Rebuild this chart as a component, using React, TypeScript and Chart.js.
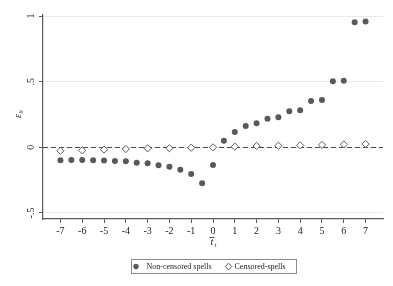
import React, { useEffect, useRef } from "react";
import { Chart, registerables } from "chart.js";

Chart.register(...registerables);

const xNonCensored = [-7, -6.5, -6, -5.5, -5, -4.5, -4, -3.5, -3, -2.5, -2, -1.5, -1, -0.5, 0, 0.5, 1, 1.5, 2, 2.5, 3, 3.5, 4, 4.5, 5, 5.5, 6, 6.5, 7];
const yNonCensored = [-0.099, -0.096, -0.097, -0.099, -0.100, -0.104, -0.106, -0.117, -0.122, -0.137, -0.148, -0.171, -0.203, -0.274, -0.135, 0.050, 0.117, 0.163, 0.183, 0.218, 0.229, 0.275, 0.282, 0.353, 0.361, 0.503, 0.508, 0.953, 0.958];
const xCensored = [-7, -6, -5, -4, -3, -2, -1, 0, 1, 2, 3, 4, 5, 6, 7];
const yCensored = [-0.026, -0.023, -0.018, -0.013, -0.008, -0.007, -0.003, 0.0, 0.005, 0.010, 0.012, 0.015, 0.018, 0.022, 0.025];
const xTicks = [-7, -6, -5, -4, -3, -2, -1, 0, 1, 2, 3, 4, 5, 6, 7];
const yTicks = [-0.5, 0, 0.5, 1];
const yTickLabels = ["-.5", "0", ".5", "1"];
const seriesNames = ["Non-censored spells", "Censored-spells"];

const MARK = "#595959";
const AXIS = "#5a5a5a";
const FONT = "'Liberation Serif', 'Times New Roman', serif";

const decor = {
  id: "decor",
  beforeDatasetsDraw(chart: any) {
    const { ctx, chartArea, scales } = chart;
    const y0 = scales.y.getPixelForValue(0);
    ctx.save();
    ctx.strokeStyle = "#4a4a4a";
    ctx.lineWidth = 1;
    ctx.setLineDash([5, 3]);
    ctx.beginPath();
    ctx.moveTo(chartArea.left, Math.round(y0) + 0.5);
    ctx.lineTo(chartArea.right, Math.round(y0) + 0.5);
    ctx.stroke();
    ctx.restore();
  },
  afterDraw(chart: any) {
    const { ctx, chartArea, scales } = chart;
    ctx.save();
    ctx.fillStyle = "#222";
    // rotated y tick labels
    ctx.font = `10px ${FONT}`;
    ctx.textAlign = "center";
    ctx.textBaseline = "middle";
    yTicks.forEach((v, i) => {
      const py = scales.y.getPixelForValue(v);
      ctx.save();
      ctx.translate(chartArea.left - 11.5, py);
      ctx.rotate(-Math.PI / 2);
      ctx.fillText(yTickLabels[i], 0, 0);
      ctx.restore();
    });
    // y title
    ctx.save();
    ctx.translate(18, (chartArea.top + chartArea.bottom) / 2 - 3);
    ctx.rotate(-Math.PI / 2);
    ctx.font = `italic 10px ${FONT}`;
    ctx.textAlign = "right";
    ctx.fillText("ε", 0, 0);
    ctx.font = `italic 6px ${FONT}`;
    ctx.textAlign = "left";
    ctx.fillText("it", 0.5, 3);
    ctx.restore();
    // x title
    const cx = scales.x.getPixelForValue(0);
    ctx.font = `italic 10px ${FONT}`;
    ctx.textAlign = "center";
    ctx.fillText("t", cx - 1, 242);
    ctx.fillRect(cx - 3.5, 237, 5, 0.8);
    ctx.font = `italic 6px ${FONT}`;
    ctx.fillText("i", cx + 2.5, 245.5);
    // legend
    const lx = 131, ly = 259, lw = 165, lh = 14;
    ctx.strokeStyle = "#8a8a8a";
    ctx.lineWidth = 1;
    ctx.strokeRect(lx + 0.5, ly + 0.5, lw, lh);
    const cy = ly + lh / 2 + 0.5;
    ctx.fillStyle = MARK;
    ctx.beginPath();
    ctx.arc(136, cy, 2.7, 0, Math.PI * 2);
    ctx.fill();
    ctx.strokeStyle = MARK;
    ctx.beginPath();
    ctx.moveTo(228.5, cy - 3.3);
    ctx.lineTo(231.8, cy);
    ctx.lineTo(228.5, cy + 3.3);
    ctx.lineTo(225.2, cy);
    ctx.closePath();
    ctx.fillStyle = "#fff";
    ctx.fill();
    ctx.stroke();
    ctx.fillStyle = "#222";
    ctx.font = `8px ${FONT}`;
    ctx.textAlign = "left";
    ctx.textBaseline = "middle";
    ctx.fillText(seriesNames[0], 146.5, cy);
    ctx.fillText(seriesNames[1], 234.5, cy);
    ctx.restore();
  },
};

export default function App() {
  const ref = useRef<HTMLCanvasElement>(null);
  useEffect(() => {
    if (!ref.current) return;
    const chart = new Chart(ref.current, {
      type: "scatter",
      data: {
        datasets: [
          {
            label: seriesNames[0],
            data: xNonCensored.map((x, i) => ({ x, y: yNonCensored[i] })),
            pointStyle: "circle",
            pointRadius: 3,
            backgroundColor: MARK,
            borderColor: MARK,
            borderWidth: 0,
          },
          {
            label: seriesNames[1],
            data: xCensored.map((x, i) => ({ x, y: yCensored[i] })),
            pointStyle: "rectRot",
            pointRadius: 3.6,
            backgroundColor: "#ffffff",
            borderColor: MARK,
            borderWidth: 1,
          },
        ],
      },
      options: {
        responsive: false,
        animation: false,
        layout: { padding: { top: 15, right: 10, left: 0, bottom: 0 } },
        plugins: { legend: { display: false }, tooltip: { enabled: false } },
        scales: {
          x: {
            type: "linear",
            min: -7.8,
            max: 7.8,
            afterBuildTicks: (s: any) => {
              s.ticks = xTicks.map((v) => ({ value: v }));
            },
            afterFit: (s: any) => {
              s.height = 67;
            },
            grid: { drawOnChartArea: false, drawTicks: true, tickLength: 4, tickColor: AXIS },
            border: { display: true, color: AXIS, width: 1.2 },
            ticks: {
              padding: 2,
              color: "#222",
              font: { family: FONT, size: 10 },
              maxRotation: 0,
              callback: (v: any) => String(v),
            },
          },
          y: {
            type: "linear",
            min: -0.546,
            max: 1.008,
            afterBuildTicks: (s: any) => {
              s.ticks = yTicks.map((v) => ({ value: v }));
            },
            afterFit: (s: any) => {
              s.width = 43;
            },
            grid: { color: "#eaeaea", drawTicks: true, tickLength: 4, tickColor: AXIS },
            border: { display: true, color: AXIS, width: 1.2 },
            ticks: { display: false },
          },
        },
      },
      plugins: [decor],
    });
    return () => chart.destroy();
  }, []);
  return (
    <div style={{ position: "absolute", left: 0, top: 0, width: 393, height: 286, background: "#fff" }}>
      <canvas ref={ref} width={393} height={286} />
    </div>
  );
}
